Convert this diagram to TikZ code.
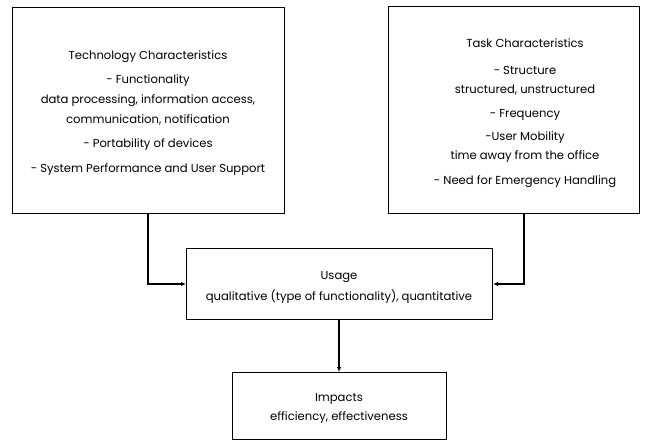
\documentclass[tikz,border=0pt]{standalone}
\usepackage{fontspec}
\setmainfont{Poppins}
\usetikzlibrary{arrows.meta}
\begin{document}
\begin{tikzpicture}[x=1pt,y=-1pt,
  box/.style={draw,line width=1.1pt},
  txt/.style={font=\fontsize{11.6}{13}\selectfont,inner sep=0pt,anchor=center},
  conn/.style={line width=1.1pt,-{Latex[length=5pt,width=4.5pt]}}]
\useasboundingbox (0,0) rectangle (650,441);
\node[box,minimum width=272pt,minimum height=206pt,anchor=north west] (tech) at (12,7) {};
\node[box,minimum width=251pt,minimum height=207pt,anchor=north west] (task) at (388,6) {};
\node[box,minimum width=306pt,minimum height=71pt,anchor=north west] (usage) at (186,248) {};
\node[box,minimum width=214pt,minimum height=67pt,anchor=north west] (imp) at (232,372) {};
% tech text
\node[txt] (t1) at (148,57) {Technology Characteristics};
\node[txt] (t2) at (148,81) {- Functionality};
\node[txt] (t3) at (148,101) {data processing, information access,};
\node[txt] (t4) at (148,120) {communication, notification};
\node[txt] (t5) at (148,145) {- Portability of devices};
\node[txt] (t6) at (148,170) {- System Performance and User Support};
% task text
\node[txt] (k1) at (525,43) {Task Characteristics};
\node[txt] (k2) at (525,70) {- Structure};
\node[txt] (k3) at (525,90) {structured, unstructured};
\node[txt] (k4) at (525,115) {- Frequency};
\node[txt] (k5) at (525,138) {-User Mobility};
\node[txt] (k6) at (525,157) {time away from the office};
\node[txt] (k7) at (525,182) {- Need for Emergency Handling};
% usage
\node[txt] (u1) at (339,277) {Usage};
\node[txt] (u2) at (339,297) {qualitative (type of functionality), quantitative};
% impacts
\node[txt] (i1) at (339,399) {Impacts};
\node[txt] (i2) at (339,418) {efficiency, effectiveness};
% connectors
\draw[conn] (tech.south -| 148,0) |- (usage.west |- 0,284);
\draw[conn] (task.south -| 524,0) |- (usage.east |- 0,284);
\draw[conn] (usage.south -| 339,0) -- (imp.north -| 339,0);
\end{tikzpicture}
\end{document}
